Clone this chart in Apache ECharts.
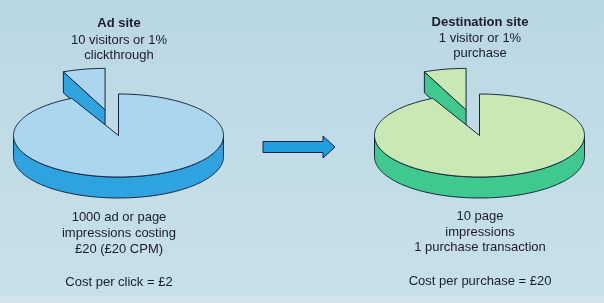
<!DOCTYPE html>
<html>
<head>
<meta charset="utf-8">
<script src="https://cdn.jsdelivr.net/npm/echarts@6/dist/echarts.min.js"></script>
<style>html,body{margin:0;padding:0;}#c{width:604px;height:303px;}</style>
</head>
<body>
<div id="c"></div>
<script>
// ---- data ----
const categories = ['Ad site', 'Destination site'];
const sliceNames = ['Converted', 'Not converted'];
const adSiteShares = [6.5, 93.5];       // share of the pie drawn as the exploded slice / rest
const destSiteShares = [6.5, 93.5];
const adSiteHeader = ['10 visitors or 1%', 'clickthrough'];
const destSiteHeader = ['1 visitor or 1%', 'purchase'];
const adSiteFooter = ['1000 ad or page', 'impressions costing', '£20 (£20 CPM)'];
const destSiteFooter = ['10 page', 'impressions', '1 purchase transaction'];
const costLabels = ['Cost per click = £2', 'Cost per purchase = £20'];

// ---- layout / style ----
const START = 90, GAP = 3, EXPLODE = 0.63, DEPTH = 21;
const OUTLINE = '#16233a';
const FONT = '"Liberation Sans", Arial, sans-serif';
const TXT = '#1b1d28';

function pieRender(shares, topColor, sideColor) {
  return function (params, api) {
    const i = params.dataIndex;
    let start = START;
    for (let j = 0; j < i; j++) start += shares[j] * 3.6;
    const end = start + shares[i] * 3.6;
    if (i > 0) start += GAP;
    const explode = i === 0 ? EXPLODE : 0;
    const mid = (start + end) / 2 * Math.PI / 180;
    const ox = explode * Math.cos(mid), oy = explode * Math.sin(mid);
    const pt = (deg, r, down) => {
      const a = deg * Math.PI / 180;
      const p = api.coord([ox + r * Math.cos(a), oy + r * Math.sin(a)]);
      return [p[0], p[1] + (down ? DEPTH : 0)];
    };
    const arc = (a0, a1, down) => {
      const pts = [];
      const n = Math.max(2, Math.ceil(Math.abs(a1 - a0)));
      for (let k = 0; k <= n; k++) pts.push(pt(a0 + (a1 - a0) * k / n, 1, down));
      return pts;
    };
    const st = (fill) => ({ fill: fill, stroke: OUTLINE, lineWidth: 1, lineJoin: 'round' });
    const children = [];
    [[start, start - 90], [end, end + 90]].forEach(([a, n]) => {
      if (Math.sin(n * Math.PI / 180) < -1e-3) {
        children.push({ type: 'polygon', shape: { points: [pt(a, 0, false), pt(a, 1, false), pt(a, 1, true), pt(a, 0, true)] }, style: st(sideColor) });
      }
    });
    for (let k = -1; k <= 2; k++) {
      const lo = Math.max(start, 180 + 360 * k), hi = Math.min(end, 360 + 360 * k);
      if (hi > lo) {
        children.push({ type: 'polygon', shape: { points: arc(lo, hi, false).concat(arc(hi, lo, true)) }, style: st(sideColor) });
      }
    }
    children.push({ type: 'polygon', shape: { points: [pt(0, 0, false)].concat(arc(start, end, false)) }, style: st(topColor) });
    return { type: 'group', children: children };
  };
}

function textEl(str, x, y, bold) {
  return { type: 'text', x: x, y: y, z: 10, style: { text: str, fill: TXT, font: (bold ? 'bold ' : '') + '13px ' + FONT, textAlign: 'center', textVerticalAlign: 'middle' } };
}

const LX = 119, RX = 480;
const graphics = [
  { type: 'polygon', z: 5, shape: { points: [[263, 141.5], [323, 141.5], [323, 136], [335, 147], [323, 158], [323, 152.5], [263, 152.5]] },
    style: { fill: '#1f9fe0', stroke: OUTLINE, lineWidth: 1, lineJoin: 'round' } },
  textEl(categories[0], LX, 23.5, true),
  textEl(adSiteHeader[0], LX, 40.5), textEl(adSiteHeader[1], LX, 55),
  textEl(categories[1], RX, 22, true),
  textEl(destSiteHeader[0], RX, 38), textEl(destSiteHeader[1], RX, 53),
  textEl(adSiteFooter[0], LX, 217.5), textEl(adSiteFooter[1], LX, 233.5), textEl(adSiteFooter[2], LX, 249),
  textEl(destSiteFooter[0], RX, 216.5), textEl(destSiteFooter[1], RX, 232), textEl(destSiteFooter[2], RX, 247.5),
  textEl(costLabels[0], LX, 282.5), textEl(costLabels[1], RX, 281.5)
];

const chart = echarts.init(document.getElementById('c'), null, { renderer: 'canvas' });
chart.setOption({
  animation: false,
  backgroundColor: { type: 'linear', x: 0, y: 0, x2: 0, y2: 1, colorStops: [
    { offset: 0, color: '#b9d7e3' }, { offset: 0.6, color: '#c3dde6' }, { offset: 0.975, color: '#c8e0e8' }, { offset: 0.98, color: '#d3e5eb' }, { offset: 1, color: '#d3e5eb' }] },
  grid: [
    { left: 13.5, top: 94, width: 210, height: 83 },
    { left: 374.5, top: 94, width: 210, height: 83 }
  ],
  xAxis: [
    { type: 'value', gridIndex: 0, min: -1, max: 1, show: false },
    { type: 'value', gridIndex: 1, min: -1, max: 1, show: false }
  ],
  yAxis: [
    { type: 'value', gridIndex: 0, min: -1, max: 1, show: false },
    { type: 'value', gridIndex: 1, min: -1, max: 1, show: false }
  ],
  series: [
    { type: 'custom', name: categories[0], coordinateSystem: 'cartesian2d', xAxisIndex: 0, yAxisIndex: 0, clip: false,
      encode: { x: 0, y: 1 }, renderItem: pieRender(adSiteShares, '#abd6f0', '#2ea3e0'),
      data: adSiteShares.map((v, i) => ({ name: sliceNames[i], value: [0, 0, v] })) },
    { type: 'custom', name: categories[1], coordinateSystem: 'cartesian2d', xAxisIndex: 1, yAxisIndex: 1, clip: false,
      encode: { x: 0, y: 1 }, renderItem: pieRender(destSiteShares, '#c9e8b3', '#3fc98f'),
      data: destSiteShares.map((v, i) => ({ name: sliceNames[i], value: [0, 0, v] })) }
  ],
  graphic: graphics
});
</script>
</body>
</html>
